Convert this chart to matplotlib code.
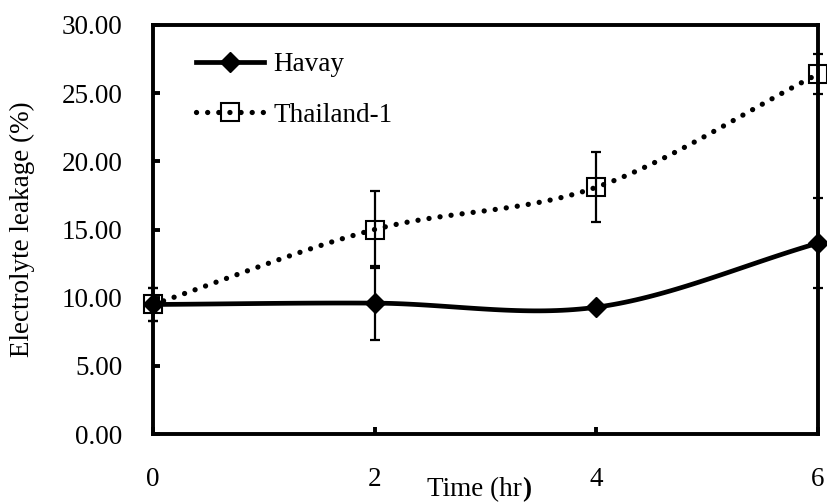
import numpy as np
import matplotlib
matplotlib.use("Agg")
import matplotlib.pyplot as plt
from matplotlib.lines import Line2D

time_hr = [0, 2, 4, 6]
havay = [9.5, 9.6, 9.3, 14.0]
havay_err = [1.2, 2.7, 0.0, 3.3]
thailand = [9.5, 15.0, 18.1, 26.4]
thailand_err = [1.2, 2.8, 2.55, 1.45]
yticks = [0, 5, 10, 15, 20, 25, 30]
xticks = [0, 2, 4, 6]

plt.rcParams['font.family'] = ['Liberation Serif', 'DejaVu Serif']
FS = 19.5
DOT = (0, (0.01, 2.1))


def smooth(x, y, n=40):
    # Catmull-Rom style smoothing (as in spreadsheet "smoothed line")
    x = np.asarray(x, float); y = np.asarray(y, float)
    px = np.concatenate([[2 * x[0] - x[1]], x, [2 * x[-1] - x[-2]]])
    py = np.concatenate([[2 * y[0] - y[1]], y, [2 * y[-1] - y[-2]]])
    xs, ys = [], []
    for i in range(1, len(px) - 2):
        t = np.linspace(0, 1, n)
        p0, p1, p2, p3 = [np.array([px[j], py[j]]) for j in range(i - 1, i + 3)]
        m1 = (p2 - p0) / 6.0
        m2 = (p3 - p1) / 6.0
        b0 = p1; b1 = p1 + m1; b2 = p2 - m2; b3 = p2
        pts = ((1 - t)[:, None] ** 3) * b0 + 3 * ((1 - t) ** 2 * t)[:, None] * b1 \
            + 3 * ((1 - t) * t ** 2)[:, None] * b2 + (t ** 3)[:, None] * b3
        xs.extend(pts[:, 0]); ys.extend(pts[:, 1])
    return np.array(xs), np.array(ys)


fig = plt.figure(figsize=(8.27, 5.04), dpi=100)
ax = fig.add_axes([153 / 827, 1 - 434 / 504, (818 - 153) / 827, (434 - 25) / 504])

# Thailand-1
sx, sy = smooth(time_hr, thailand)
ax.plot(sx, sy, color='black', lw=3.8, linestyle=DOT,
        dash_capstyle='round', clip_on=False, zorder=3)
ax.errorbar(time_hr, thailand, yerr=thailand_err, fmt='none', ecolor='black',
            elinewidth=1.6, capsize=3.6, capthick=1.6, clip_on=False, zorder=4)
ax.plot(time_hr, thailand, linestyle='none', marker='s', markersize=13.5,
        markerfacecolor='none', markeredgecolor='black', markeredgewidth=1.5,
        clip_on=False, zorder=5)

# Havay
hx, hy = smooth(time_hr, havay)
ax.plot(hx, hy, color='black', lw=3.4, solid_capstyle='butt', clip_on=False, zorder=6)
hx_e = [t for t, e in zip(time_hr, havay_err) if e > 0]
hy_e = [v for v, e in zip(havay, havay_err) if e > 0]
he = [e for e in havay_err if e > 0]
ax.errorbar(hx_e, hy_e, yerr=he, fmt='none', ecolor='black',
            elinewidth=1.6, capsize=3.6, capthick=1.6, clip_on=False, zorder=7)
ax.plot(time_hr, havay, linestyle='none', marker='D', markersize=10.5,
        color='black', clip_on=False, zorder=8)

ax.set_xlim(0, 6)
ax.set_ylim(0, 30)
ax.set_xticks(xticks)
ax.set_xticklabels([str(v) for v in xticks])
ax.set_yticks(yticks)
ax.set_yticklabels([f"{v:.2f}" for v in yticks])
for s in ax.spines.values():
    s.set_linewidth(2.8)
ax.tick_params(axis='both', direction='in', length=5, width=2.8, labelsize=FS)
ax.tick_params(axis='x', pad=24)
ax.tick_params(axis='y', pad=22)

ax.set_ylabel('Electrolyte leakage (%)', fontsize=FS)
ax.yaxis.set_label_coords((35 - 153) / 665, 0.5)
fig.text(522 / 827, 1 - 490 / 504, 'Time (hr', fontsize=FS, ha='right', va='center')
fig.text(522 / 827, 1 - 490 / 504, ')', fontsize=FS, ha='left', va='center', fontweight='bold')

handles = [
    Line2D([], [], color='black', lw=3.4, marker='D', markersize=10.5),
    Line2D([], [], color='black', lw=3.8, linestyle=DOT, dash_capstyle='round',
           marker='s', markersize=13.5, markerfacecolor='none', markeredgewidth=1.5),
]
leg = ax.legend(handles, ['Havay', 'Thailand-1'], loc='upper left', frameon=False,
                fontsize=FS, handlelength=2.5, handletextpad=0.35, labelspacing=0.95,
                borderpad=0, borderaxespad=0,
                bbox_to_anchor=((196 - 153) / 665, (434 - 52) / 409))

fig.savefig('out.png', dpi=100)
